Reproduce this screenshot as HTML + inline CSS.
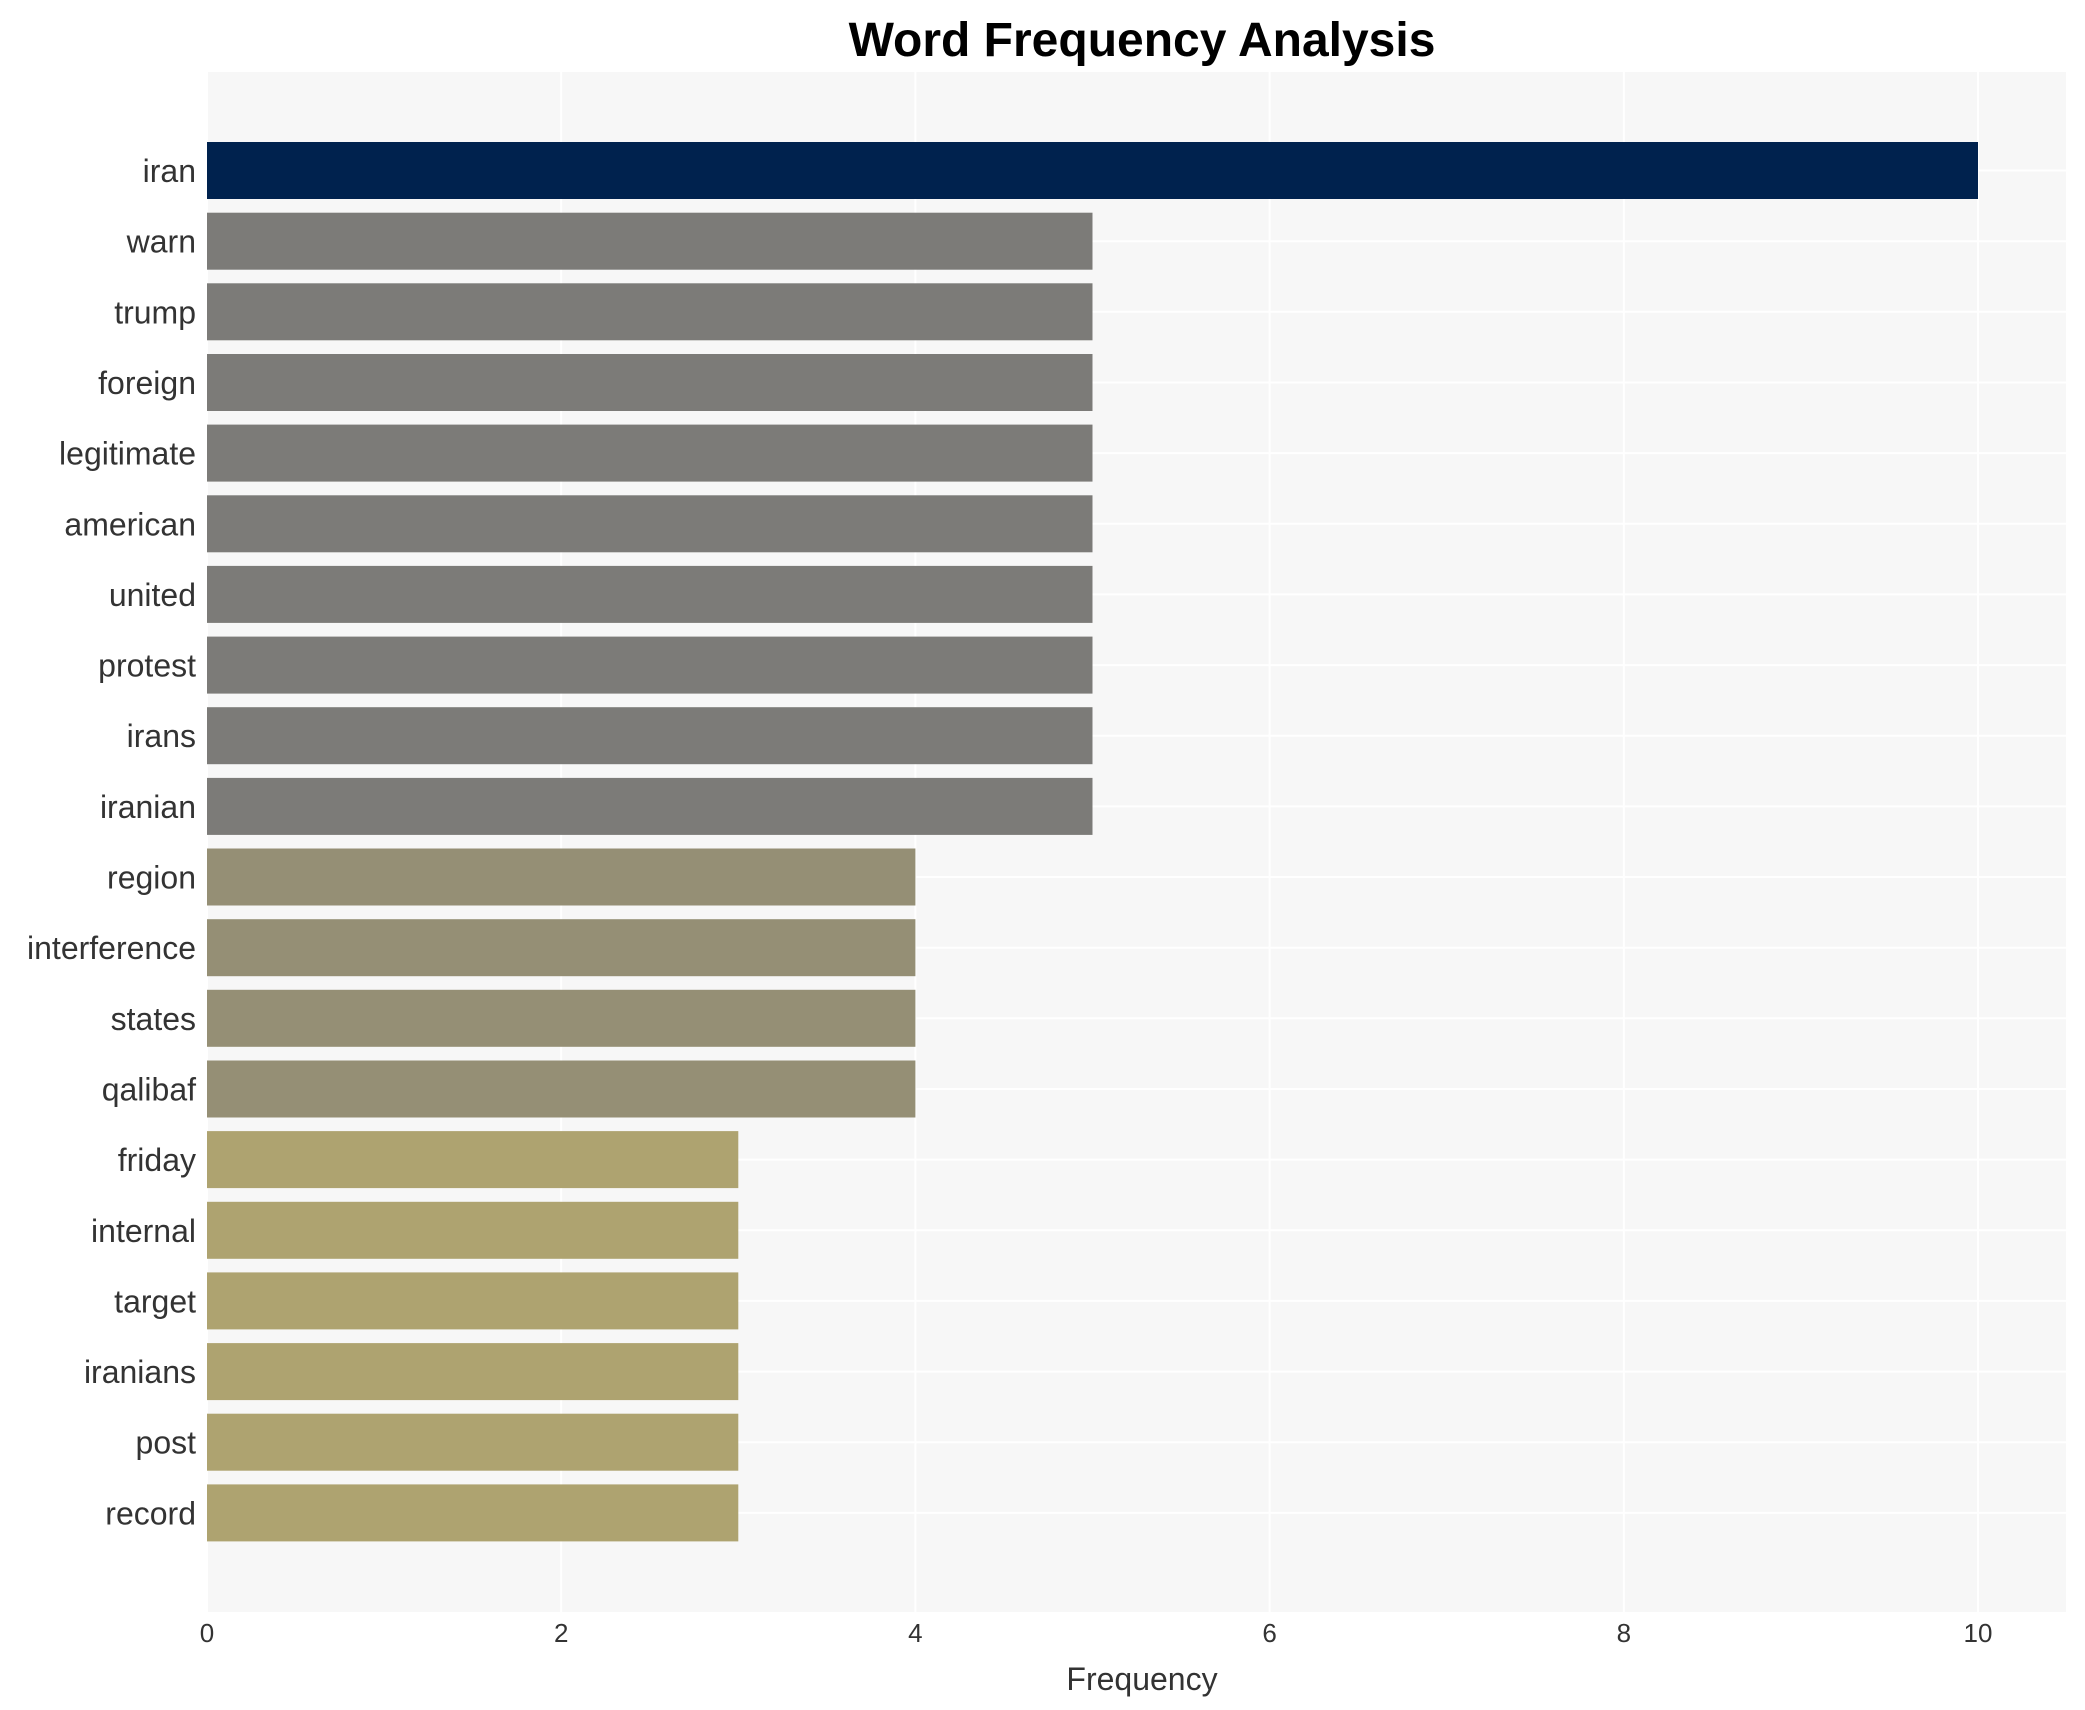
<!DOCTYPE html>
<html><head><style>body{margin:0;background:#fff}svg{display:block}</style></head><body>
<svg width="2085" height="1710" xmlns="http://www.w3.org/2000/svg" font-family="Liberation Sans, Arial, sans-serif">
<rect x="207" y="72" width="1859" height="1540" fill="#f7f7f7"/>
<g stroke="#ffffff" stroke-width="2">
<line x1="207" x2="207" y1="72" y2="1612"/><line x1="561.2" x2="561.2" y1="72" y2="1612"/><line x1="915.4" x2="915.4" y1="72" y2="1612"/><line x1="1269.6" x2="1269.6" y1="72" y2="1612"/><line x1="1623.8" x2="1623.8" y1="72" y2="1612"/><line x1="1978" x2="1978" y1="72" y2="1612"/>
<line x1="207" x2="2066" y1="170.5" y2="170.5"/><line x1="207" x2="2066" y1="241.2" y2="241.2"/><line x1="207" x2="2066" y1="311.8" y2="311.8"/><line x1="207" x2="2066" y1="382.5" y2="382.5"/><line x1="207" x2="2066" y1="453.1" y2="453.1"/><line x1="207" x2="2066" y1="523.8" y2="523.8"/><line x1="207" x2="2066" y1="594.4" y2="594.4"/><line x1="207" x2="2066" y1="665.1" y2="665.1"/><line x1="207" x2="2066" y1="735.7" y2="735.7"/><line x1="207" x2="2066" y1="806.4" y2="806.4"/><line x1="207" x2="2066" y1="877" y2="877"/><line x1="207" x2="2066" y1="947.7" y2="947.7"/><line x1="207" x2="2066" y1="1018.3" y2="1018.3"/><line x1="207" x2="2066" y1="1089" y2="1089"/><line x1="207" x2="2066" y1="1159.6" y2="1159.6"/><line x1="207" x2="2066" y1="1230.3" y2="1230.3"/><line x1="207" x2="2066" y1="1300.9" y2="1300.9"/><line x1="207" x2="2066" y1="1371.6" y2="1371.6"/><line x1="207" x2="2066" y1="1442.2" y2="1442.2"/><line x1="207" x2="2066" y1="1512.9" y2="1512.9"/>
</g>
<text x="1142" y="56" font-size="48" font-weight="bold" text-anchor="middle" fill="#000">Word Frequency Analysis</text>
<g font-size="26" fill="#333" text-anchor="middle">
<text x="207" y="1642">0</text><text x="561.2" y="1642">2</text><text x="915.4" y="1642">4</text><text x="1269.6" y="1642">6</text><text x="1623.8" y="1642">8</text><text x="1978" y="1642">10</text>
</g>
<text x="1142" y="1690" font-size="32" text-anchor="middle" fill="#333">Frequency</text>
<g font-size="32" fill="#333" text-anchor="end">
<rect x="207" y="142" width="1771" height="57" fill="#00224e"/><text x="196" y="182">iran</text>
<rect x="207" y="212.7" width="885.5" height="57" fill="#7c7b78"/><text x="196" y="252.7">warn</text>
<rect x="207" y="283.3" width="885.5" height="57" fill="#7c7b78"/><text x="196" y="323.3">trump</text>
<rect x="207" y="354" width="885.5" height="57" fill="#7c7b78"/><text x="196" y="394">foreign</text>
<rect x="207" y="424.6" width="885.5" height="57" fill="#7c7b78"/><text x="196" y="464.6">legitimate</text>
<rect x="207" y="495.3" width="885.5" height="57" fill="#7c7b78"/><text x="196" y="535.3">american</text>
<rect x="207" y="565.9" width="885.5" height="57" fill="#7c7b78"/><text x="196" y="605.9">united</text>
<rect x="207" y="636.6" width="885.5" height="57" fill="#7c7b78"/><text x="196" y="676.6">protest</text>
<rect x="207" y="707.2" width="885.5" height="57" fill="#7c7b78"/><text x="196" y="747.2">irans</text>
<rect x="207" y="777.9" width="885.5" height="57" fill="#7c7b78"/><text x="196" y="817.9">iranian</text>
<rect x="207" y="848.5" width="708.4" height="57" fill="#958f75"/><text x="196" y="888.5">region</text>
<rect x="207" y="919.2" width="708.4" height="57" fill="#958f75"/><text x="196" y="959.2">interference</text>
<rect x="207" y="989.8" width="708.4" height="57" fill="#958f75"/><text x="196" y="1029.8">states</text>
<rect x="207" y="1060.5" width="708.4" height="57" fill="#958f75"/><text x="196" y="1100.5">qalibaf</text>
<rect x="207" y="1131.1" width="531.3" height="57" fill="#aea370"/><text x="196" y="1171.1">friday</text>
<rect x="207" y="1201.8" width="531.3" height="57" fill="#aea370"/><text x="196" y="1241.8">internal</text>
<rect x="207" y="1272.4" width="531.3" height="57" fill="#aea370"/><text x="196" y="1312.4">target</text>
<rect x="207" y="1343.1" width="531.3" height="57" fill="#aea370"/><text x="196" y="1383.1">iranians</text>
<rect x="207" y="1413.7" width="531.3" height="57" fill="#aea370"/><text x="196" y="1453.7">post</text>
<rect x="207" y="1484.4" width="531.3" height="57" fill="#aea370"/><text x="196" y="1524.4">record</text>
</g>
</svg>
</body></html>
